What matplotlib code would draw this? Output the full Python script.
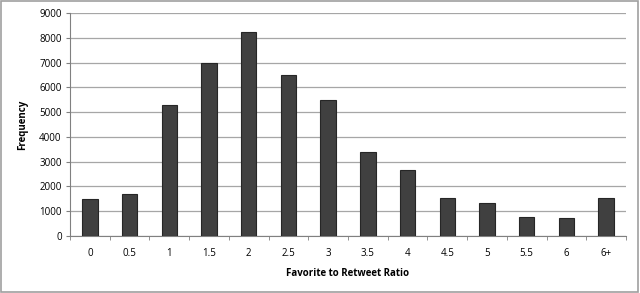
import matplotlib.pyplot as plt
from matplotlib.patches import Rectangle

categories = ['0', '0.5', '1', '1.5', '2', '2.5', '3', '3.5', '4', '4.5', '5', '5.5', '6', '6+']
counts = [1480, 1690, 5290, 6990, 8240, 6500, 5480, 3400, 2650, 1530, 1330, 770, 710, 1530]

plt.rcParams['font.family'] = ['Open Sans', 'DejaVu Sans']

fig = plt.figure(figsize=(6.4, 2.93), dpi=100)
ax = fig.add_axes([70 / 640, 1 - 236 / 293, 556 / 640, 223 / 293])

x = list(range(len(categories)))
ax.bar(x, counts, width=0.39, color='#404040', edgecolor='#262626', linewidth=0.8, zorder=3)

ax.set_xlim(-0.5, len(categories) - 0.5)
ax.set_ylim(0, 9000)
ax.set_yticks(range(0, 9001, 1000))
ax.tick_params(axis='y', labelsize=7, length=3, color='#808080', pad=3)
ax.set_xticks(x)
ax.set_xticklabels(categories)
ax.tick_params(axis='x', labelsize=7, length=0, pad=9)
# category boundary ticks
ax.set_xticks([i - 0.5 for i in range(len(categories) + 1)], minor=True)
ax.tick_params(axis='x', which='minor', length=3, color='#808080')

ax.grid(axis='y', color='#a6a6a6', linewidth=0.9, zorder=0)
for side in ['top', 'right']:
    ax.spines[side].set_visible(False)
ax.spines['left'].set_color('#808080')
ax.spines['bottom'].set_color('#808080')

ax.set_xlabel('Favorite to Retweet Ratio', fontsize=7, fontweight='bold', labelpad=6)
ax.set_ylabel('Frequency', fontsize=7, fontweight='bold', labelpad=8)

fig.patches.append(Rectangle((0.002, 0.003), 0.995, 0.994, transform=fig.transFigure,
                             fill=False, edgecolor='#a0a0a0', linewidth=1.2))

fig.savefig('out.png', dpi=100)
